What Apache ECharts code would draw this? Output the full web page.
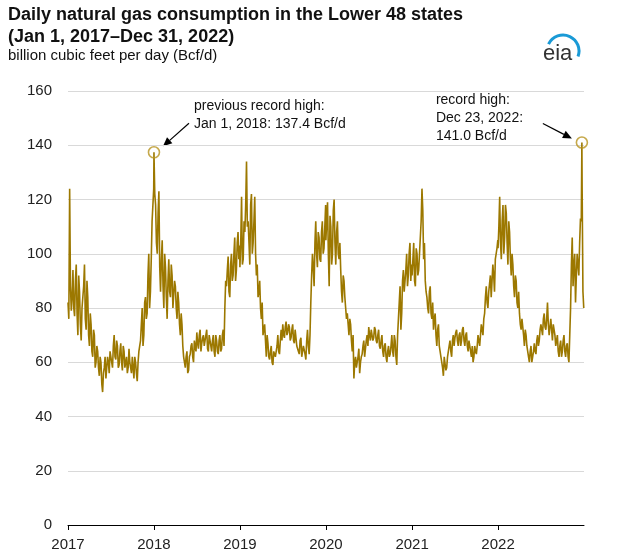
<!DOCTYPE html>
<html>
<head>
<meta charset="utf-8">
<script src="https://cdn.jsdelivr.net/npm/echarts@6/dist/echarts.min.js"></script>
<style>
html,body{margin:0;padding:0;background:#fff;}
#main{width:626px;height:553px;}
</style>
</head>
<body>
<div id="main"></div>
<script>
// Readings, Bcf/d.
// vYYYY: weekly values starting Jan 1 of each year (step 7 days)
// mYYYY: mid-week values (3.5 days after each weekly reading)
const years = [2017, 2018, 2019, 2020, 2021, 2022];
const v2017 = [82,124,79,94,77, 96,70,86,68, 80,96,72,84, 66,74,62,70,60, 64,55,60,49, 58,54,62,56, 64,58,70,61,66, 59,67,57,64, 60,56,65,58, 62,54,60,53,64, 68,80,70,84, 78,100,86,112,124];
const m2017 = [76,88,84,80,90, 78,92,74,80, 88,76,90,70, 78,64,72,58,66, 58,62,52,56, 62,58,60,64, 60,66,62,68,58, 64,60,66,58, 62,58,60,56, 58,62,56,60,66, 74,66,82,76, 92,80,98,118];
const v2018 = [137.4,118,100,123,86, 105,80,95,76, 98,84,92,80, 88,76,82,70,74, 62,58,64,57, 63,67,60,68, 71,65,72,67,70, 66,72,64,70, 64,70,62,68, 63,70,65,72,80, 88,99,84,100, 92,106,94,108,103];
const m2018 = [122,104,115,95,98, 88,100,84,90, 86,96,80,90, 80,86,74,78,66, 60,62,56,62, 66,62,68,64, 67,70,64,69,66, 70,65,70,66, 68,64,70,64, 68,64,70,66,90, 94,86,96,90, 100,90,104,98];
const v2019 = [95,121,98,108,134, 112,96,122,104, 121,92,84,90, 76,70,74,62,67, 61,66,59,64, 62,70,63,72, 74,69,75,71,73, 69,74,67,72, 66,63,69,62, 66,61,72,63,82, 100,88,112,95, 106,97,112,102,118];
const m2019 = [104,96,112,118,110, 104,118,100,112, 100,96,86,80, 82,72,68,70,62, 64,60,64,62, 66,64,68,68, 70,73,70,74,68, 72,68,72,66, 64,68,62,66, 63,68,66,70,92, 95,104,100,108, 98,108,100,110];
const v2020 = [105,119,88,110,100, 120,96,112,98, 94,82,90,80, 78,70,74,64,54, 62,58,65,60, 63,68,62,70, 73,68,72,69,72, 67,72,65,70, 62,67,60,66, 63,70,62,68,59, 76,88,78,94, 86,100,92,104,96];
const m2020 = [112,100,114,96,116, 104,108,100,104, 86,92,84,76, 74,76,68,70,60, 58,62,56,62, 66,62,68,66, 70,72,68,73,68, 70,66,68,64, 66,62,64,62, 66,64,70,62,70, 82,72,90,86, 94,88,100,90];
const v2021 = [92,104,88,100,94, 106,124,98,90, 84,78,88,76, 72,78,66,74,64, 60,55,62,58, 64,68,62,70, 69,72,66,71,68, 73,66,71,64, 68,62,60,66, 63,70,66,74,70, 78,88,80,89, 84,96,86,100,105];
const m2021 = [98,90,102,92,100, 112,116,104,86, 80,86,78,82, 76,70,72,66,62, 58,62,57,62, 66,64,68,66, 71,68,70,66,72, 68,70,66,68, 64,66,62,64, 66,68,70,72,76, 84,82,86,92, 90,92,98,102];
const v2022 = [102,121,98,118,106, 115,96,108,92, 96,84,90,80, 78,72,76,66,70, 64,60,66,62, 67,63,70,68, 74,70,78,72,82, 70,76,68,74, 66,70,62,68, 64,70,62,67,60, 80,106,96,82, 100,92,113,125,80];
const m2022 = [110,104,112,100,118, 104,112,98,100, 88,92,82,86, 74,76,70,72,66, 62,64,60,64, 64,68,66,72, 72,76,73,76,74, 73,72,74,70, 68,64,66,62, 68,64,66,62,70, 96,88,100,92, 96,104,112,86];
const weeklyValues = [v2017, v2018, v2019, v2020, v2021, v2022];
const midValues = [m2017, m2018, m2019, m2020, m2021, m2022];
// Record points
const recordDates = ['2018-01-01', '2022-12-23'];
const recordValues = [137.4, 141.0];
const yTicks = [0, 20, 40, 60, 80, 100, 120, 140, 160];
const xYearLabels = ['2017', '2018', '2019', '2020', '2021', '2022'];

const DAY = 86400000;
let series = [];
years.forEach((y, i) => {
  const start = Date.UTC(y, 0, 1);
  weeklyValues[i].forEach((v, k) => series.push([start + k * 7 * DAY, v]));
  midValues[i].forEach((v, k) => series.push([start + (k * 7 + 3.5) * DAY, v]));
});
const recPts = recordDates.map((d, i) => [Date.parse(d + 'T00:00:00Z'), recordValues[i]]);
recPts.forEach(p => {
  const idx = series.findIndex(s => s[0] === p[0]);
  if (idx >= 0) series[idx] = p.slice(); else series.push(p.slice());
});
series.sort((a, b) => a[0] - b[0]);

const FONT = 'Liberation Sans, Arial, sans-serif';
const chart = echarts.init(document.getElementById('main'), null, {renderer: 'canvas'});
const option = {
  animation: false,
  backgroundColor: '#fff',
  grid: {left: 68, right: 42, top: 91, bottom: 28, containLabel: false},
  xAxis: {
    type: 'time',
    min: Date.UTC(2017, 0, 1),
    max: Date.UTC(2023, 0, 1),
    splitNumber: 6,
    minInterval: 365 * DAY,
    axisLine: {show: true, lineStyle: {color: '#000', width: 1}},
    axisTick: {show: true, length: 5, lineStyle: {color: '#000'}},
    splitLine: {show: false},
    axisLabel: {
      color: '#222', fontFamily: FONT, fontSize: 15, margin: 12,
      showMaxLabel: false,
      formatter: function (val) { return String(new Date(val).getUTCFullYear()); }
    }
  },
  yAxis: {
    type: 'value', min: 0, max: 160, interval: 20,
    axisLine: {show: false}, axisTick: {show: false},
    splitLine: {show: true, lineStyle: {color: '#d9d9d9', width: 1}},
    axisLabel: {color: '#222', fontFamily: FONT, fontSize: 15, margin: 16}
  },
  series: [{
    type: 'line', data: series, showSymbol: false, symbol: 'none',
    lineStyle: {color: '#9c7800', width: 1.6}, z: 3
  }, {
    type: 'scatter', data: recPts, symbol: 'circle', symbolSize: 11,
    itemStyle: {color: 'rgba(0,0,0,0)', borderColor: '#b8941f', borderWidth: 1.6}, z: 4
  }],
  graphic: [
    {type: 'text', left: 8, top: 4, style: {text: 'Daily natural gas consumption in the Lower 48 states\n(Jan 1, 2017\u2013Dec 31, 2022)', font: 'bold 18px ' + FONT, fill: '#111', lineHeight: 22}},
    {type: 'text', left: 8, top: 48, style: {text: 'billion cubic feet per day (Bcf/d)', font: '15px ' + FONT, fill: '#111'}},
    {type: 'text', left: 543, top: 43, style: {text: 'eia', font: '22px ' + FONT, fill: '#333'}},
    {type: 'arc', shape: {cx: 563, cy: 51, r: 16, startAngle: -2.7, endAngle: 0.35}, style: {stroke: '#1a9ad6', lineWidth: 3, fill: null}}
  ]
};
chart.setOption(option);

// annotations anchored to the record points
const p1 = chart.convertToPixel({gridIndex: 0}, recPts[0]);
const p2 = chart.convertToPixel({gridIndex: 0}, recPts[1]);
function arrow(x1, y1, x2, y2) {
  const ang = Math.atan2(y2 - y1, x2 - x1), L = 9, W = 4;
  const bx = x2 - L * Math.cos(ang), by = y2 - L * Math.sin(ang);
  const nx = -Math.sin(ang) * W, ny = Math.cos(ang) * W;
  return [
    {type: 'line', shape: {x1: x1, y1: y1, x2: bx, y2: by}, style: {stroke: '#000', lineWidth: 1.2}},
    {type: 'polygon', shape: {points: [[x2, y2], [bx + nx, by + ny], [bx - nx, by - ny]]}, style: {fill: '#000'}}
  ];
}
const g = option.graphic.concat(
  [{type: 'text', x: p1[0] + 40, y: p1[1] - 55, style: {text: 'previous record high:\nJan 1, 2018: 137.4 Bcf/d', font: '14px ' + FONT, fill: '#111', lineHeight: 18}},
   {type: 'text', x: p2[0] - 146, y: p2[1] - 51, style: {text: 'record high:\nDec 23, 2022:\n141.0 Bcf/d', font: '14px ' + FONT, fill: '#111', lineHeight: 18}}],
  arrow(p1[0] + 35, p1[1] - 29, p1[0] + 9, p1[1] - 6),
  arrow(p2[0] - 39, p2[1] - 19, p2[0] - 10, p2[1] - 4)
);
chart.setOption({graphic: g});
</script>
</body>
</html>
